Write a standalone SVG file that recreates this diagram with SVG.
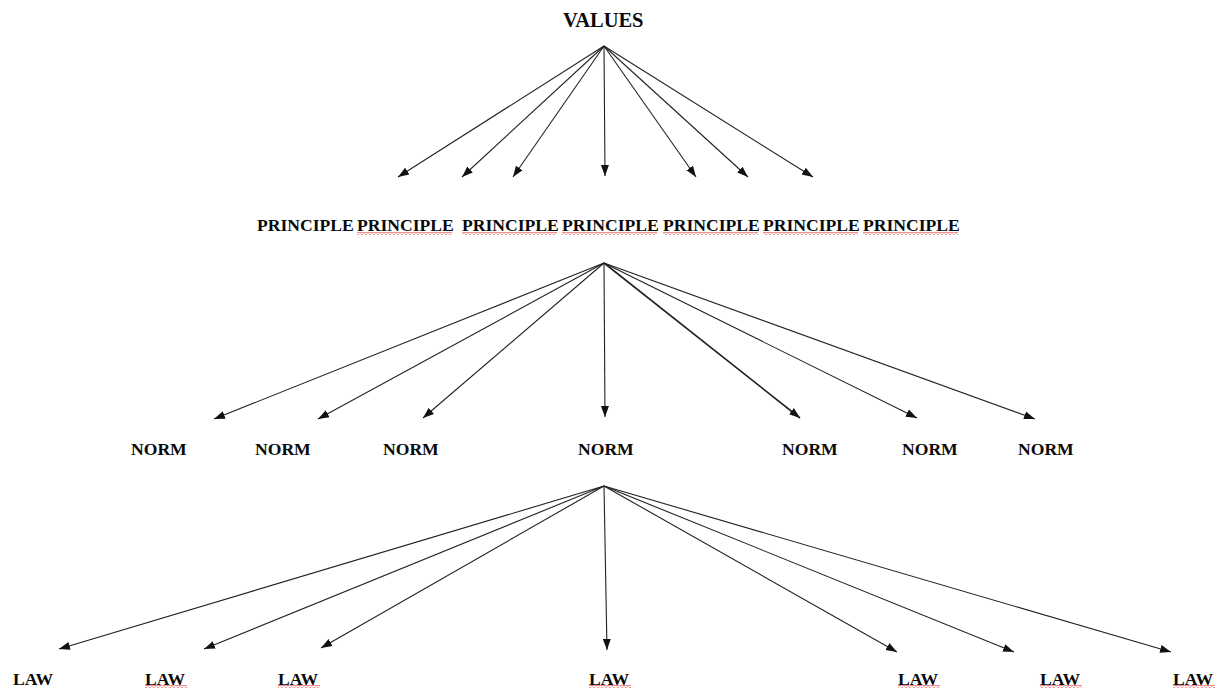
<svg xmlns="http://www.w3.org/2000/svg" width="1217" height="688" viewBox="0 0 1217 688">
<style>
.t{font-family:"Liberation Serif","Times New Roman",serif;font-weight:bold;font-size:17.6px;fill:#0a0a0a}
.v{font-size:20.5px}
.c line{stroke:#222;stroke-width:1.1;marker-end:url(#ah)}
.sq{fill:url(#sqp)}
</style>
<defs>
<marker id="ah" markerUnits="userSpaceOnUse" markerWidth="12" markerHeight="10" refX="11" refY="5" orient="auto">
<path d="M0,1 L11,5 L0,9 z" fill="#111"/>
</marker>
<pattern id="sqp" patternUnits="userSpaceOnUse" width="4" height="3">
<path d="M0,2.5 L2,0.5 L4,2.5" stroke="#e02020" stroke-width="1" fill="none"/>
</pattern>
</defs>
<rect width="1217" height="688" fill="#fff"/>
<g id="connectors" class="c">
<line x1="604" y1="46" x2="398" y2="177"/>
<line x1="604" y1="46" x2="462" y2="177"/>
<line x1="604" y1="46" x2="513" y2="177"/>
<line x1="604" y1="46" x2="605" y2="176"/>
<line x1="604" y1="46" x2="696" y2="177"/>
<line x1="604" y1="46" x2="748" y2="177"/>
<line x1="604" y1="46" x2="813" y2="177"/>
<line x1="604" y1="263" x2="214" y2="419"/>
<line x1="604" y1="263" x2="318" y2="419"/>
<line x1="604" y1="263" x2="423" y2="418"/>
<line x1="604" y1="263" x2="605" y2="417"/>
<line x1="604" y1="263" x2="800" y2="418" style="stroke-width:1.6"/>
<line x1="604" y1="263" x2="917" y2="418"/>
<line x1="604" y1="263" x2="1035" y2="419"/>
<line x1="604" y1="486" x2="59" y2="649"/>
<line x1="604" y1="486" x2="204" y2="649"/>
<line x1="604" y1="486" x2="321" y2="648"/>
<line x1="604" y1="486" x2="607" y2="650"/>
<line x1="604" y1="486" x2="897" y2="652"/>
<line x1="604" y1="486" x2="1014" y2="652"/>
<line x1="604" y1="486" x2="1171" y2="652"/>
</g>
<g id="values"><text class="t v" x="563" y="27">VALUES</text></g>
<g id="principle1"><text class="t" x="257" y="231">PRINCIPLE</text></g>
<g id="principle2"><rect class="sq" x="357" y="232" width="95" height="3"/><text class="t" x="357" y="231">PRINCIPLE</text></g>
<g id="principle3"><rect class="sq" x="462" y="232" width="95" height="3"/><text class="t" x="462" y="231">PRINCIPLE</text></g>
<g id="principle4"><rect class="sq" x="562" y="232" width="95" height="3"/><text class="t" x="562" y="231">PRINCIPLE</text></g>
<g id="principle5"><rect class="sq" x="663" y="232" width="95" height="3"/><text class="t" x="663" y="231">PRINCIPLE</text></g>
<g id="principle6"><rect class="sq" x="763" y="232" width="95" height="3"/><text class="t" x="763" y="231">PRINCIPLE</text></g>
<g id="principle7"><rect class="sq" x="863" y="232" width="95" height="3"/><text class="t" x="863" y="231">PRINCIPLE</text></g>
<g id="norm1"><text class="t" x="131" y="455">NORM</text></g>
<g id="norm2"><text class="t" x="255" y="455">NORM</text></g>
<g id="norm3"><text class="t" x="383" y="455">NORM</text></g>
<g id="norm4"><text class="t" x="578" y="455">NORM</text></g>
<g id="norm5"><text class="t" x="782" y="455">NORM</text></g>
<g id="norm6"><text class="t" x="902" y="455">NORM</text></g>
<g id="norm7"><text class="t" x="1018" y="455">NORM</text></g>
<g id="law1"><text class="t" x="13" y="685">LAW</text></g>
<g id="law2"><rect class="sq" x="145" y="685" width="42" height="3"/><text class="t" x="145" y="685">LAW</text></g>
<g id="law3"><rect class="sq" x="278" y="685" width="42" height="3"/><text class="t" x="278" y="685">LAW</text></g>
<g id="law4"><rect class="sq" x="589" y="685" width="42" height="3"/><text class="t" x="589" y="685">LAW</text></g>
<g id="law5"><rect class="sq" x="898" y="685" width="42" height="3"/><text class="t" x="898" y="685">LAW</text></g>
<g id="law6"><rect class="sq" x="1040" y="685" width="42" height="3"/><text class="t" x="1040" y="685">LAW</text></g>
<g id="law7"><rect class="sq" x="1173" y="685" width="42" height="3"/><text class="t" x="1173" y="685">LAW</text></g>
</svg>
